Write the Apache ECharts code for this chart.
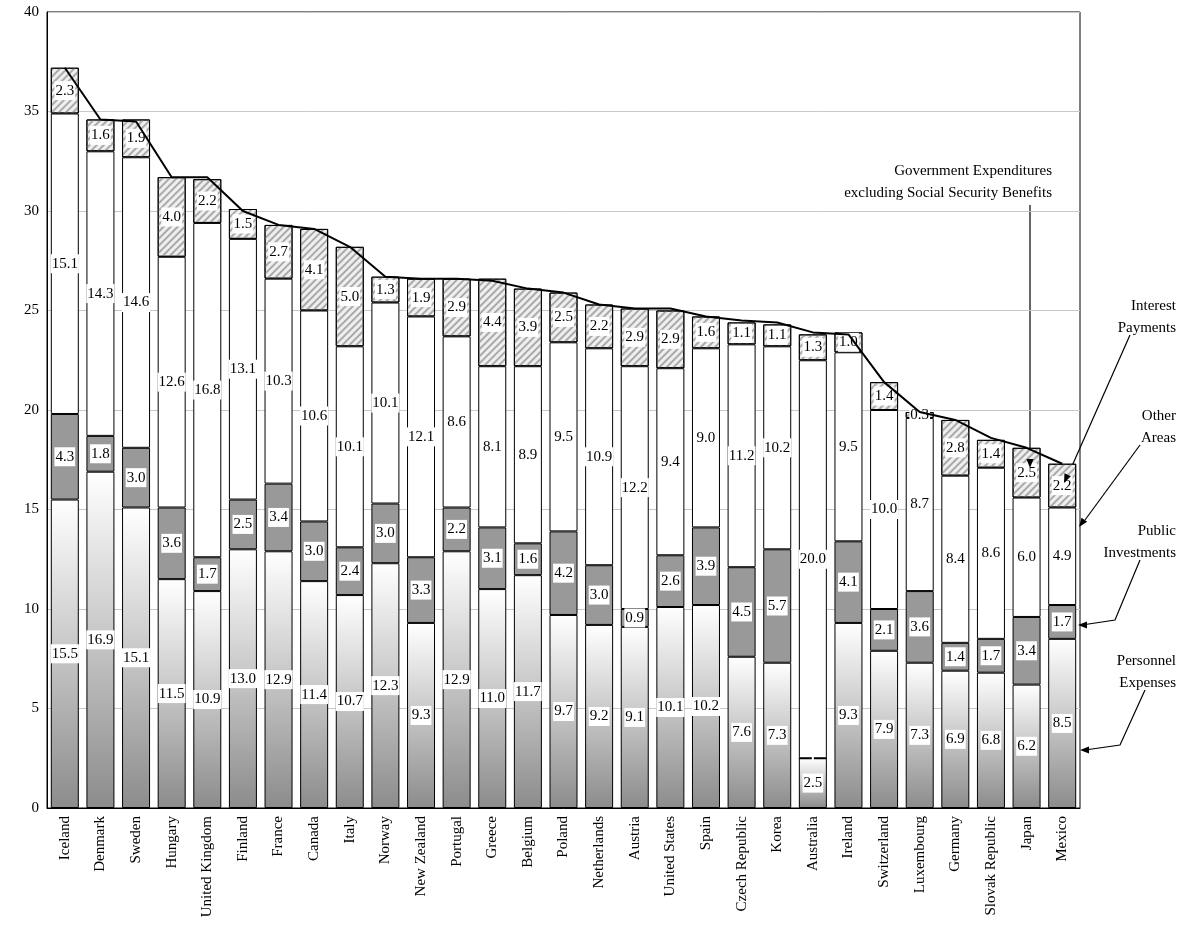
<!DOCTYPE html><html><head><meta charset="utf-8"><script src="https://cdn.jsdelivr.net/npm/echarts@6/dist/echarts.min.js"></script>
<style>html,body{margin:0;background:#fff}#c{width:1182px;height:935px}</style></head><body><div id="c"></div><script>
const countries=["Iceland","Denmark","Sweden","Hungary","United Kingdom","Finland","France","Canada","Italy","Norway","New Zealand","Portugal","Greece","Belgium","Poland","Netherlands","Austria","United States","Spain","Czech Republic","Korea","Australia","Ireland","Switzerland","Luxembourg","Germany","Slovak Republic","Japan","Mexico"];
const personnel=[15.5,16.9,15.1,11.5,10.9,13.0,12.9,11.4,10.7,12.3,9.3,12.9,11.0,11.7,9.7,9.2,9.1,10.1,10.2,7.6,7.3,2.5,9.3,7.9,7.3,6.9,6.8,6.2,8.5];
const publicInv=[4.3,1.8,3.0,3.6,1.7,2.5,3.4,3.0,2.4,3.0,3.3,2.2,3.1,1.6,4.2,3.0,0.9,2.6,3.9,4.5,5.7,0,4.1,2.1,3.6,1.4,1.7,3.4,1.7];
const otherAreas=[15.1,14.3,14.6,12.6,16.8,13.1,10.3,10.6,10.1,10.1,12.1,8.6,8.1,8.9,9.5,10.9,12.2,9.4,9.0,11.2,10.2,20.0,9.5,10.0,8.7,8.4,8.6,6.0,4.9];
const interest=[2.3,1.6,1.9,4.0,2.2,1.5,2.7,4.1,5.0,1.3,1.9,2.9,4.4,3.9,2.5,2.2,2.9,2.9,1.6,1.1,1.1,1.3,1.0,1.4,0.3,2.8,1.4,2.5,2.2];
const totals=[37.2,34.6,34.5,31.7,31.7,30.0,29.3,29.1,28.2,26.7,26.6,26.6,26.5,26.1,25.9,25.3,25.1,25.1,24.7,24.5,24.4,23.9,23.8,21.4,19.9,19.5,18.6,18.1,17.3];
const F='"Liberation Serif","DejaVu Serif",serif';
const lbl={show:true,position:'inside',color:'#000',fontFamily:F,fontSize:15,backgroundColor:'#fff',padding:[2,1],formatter:p=>p.value?p.value.toFixed(1):''};
const bar=(name,data,style)=>({name,type:'bar',stack:'s',data,barWidth:28,label:lbl,itemStyle:Object.assign({borderColor:'#000',borderWidth:1},style)});
const chart=echarts.init(document.getElementById('c'));
const arrow=(pts)=>({type:'polyline',shape:{points:pts},style:{stroke:'#000',lineWidth:1.2,fill:null}});
const head=(x,y,dx,dy)=>({type:'polygon',x,y,rotation:-Math.atan2(dy,dx),shape:{points:[[0,0],[-9,-3.5],[-9,3.5]]},style:{fill:'#000'},z:10});
chart.setOption({
 animation:false,
 grid:{left:47,right:102,top:12,bottom:127,show:true,borderColor:'#000',borderWidth:1},
 xAxis:{type:'category',data:countries,axisLine:{lineStyle:{color:'#000'}},axisTick:{show:false},axisLabel:{rotate:90,fontFamily:F,fontSize:15,color:'#000',interval:0}},
 yAxis:{type:'value',min:0,max:40,interval:5,axisLine:{show:true,lineStyle:{color:'#000'}},axisTick:{show:false},splitLine:{lineStyle:{color:'#c8c8c8'}},axisLabel:{fontFamily:F,fontSize:15,color:'#000'}},
 series:[
  bar('Personnel Expenses',personnel,{color:new echarts.graphic.LinearGradient(0,0,0,1,[{offset:0,color:'#ffffff'},{offset:1,color:'#8c8c8c'}])}),
  bar('Public Investments',publicInv,{color:'#999'}),
  bar('Other Areas',otherAreas,{color:'#fff'}),
  bar('Interest Payments',interest,{color:'#efefef',decal:{symbol:'rect',color:'#aaa',dashArrayX:[1,0],dashArrayY:[1.5,3],rotation:-Math.PI/4,symbolSize:1}}),
  {name:'Total',type:'line',data:totals,symbol:'none',lineStyle:{color:'#000',width:2},label:{show:true,position:'top',fontFamily:F,fontSize:15,color:'#000',formatter:p=>p.value.toFixed(1)},z:5}
 ],
 graphic:[
  {type:'text',x:1052,y:160,style:{text:'Government Expenditures\nexcluding Social Security Benefits',font:'15px '+F,align:'right',fill:'#000',lineHeight:22}},
  {type:'text',x:1176,y:295,style:{text:'Interest\nPayments',font:'15px '+F,align:'right',fill:'#000',lineHeight:22}},
  {type:'text',x:1176,y:405,style:{text:'Other\nAreas',font:'15px '+F,align:'right',fill:'#000',lineHeight:22}},
  {type:'text',x:1176,y:520,style:{text:'Public\nInvestments',font:'15px '+F,align:'right',fill:'#000',lineHeight:22}},
  {type:'text',x:1176,y:650,style:{text:'Personnel\nExpenses',font:'15px '+F,align:'right',fill:'#000',lineHeight:22}},
  arrow([[1030,205],[1030,460]]),head(1030,468,0,1),
  arrow([[1130,335],[1068,475]]),head(1064,483,-62,140),
  arrow([[1140,445],[1085,520]]),head(1079,527,-55,75),
  arrow([[1140,560],[1115,620],[1082,625]]),head(1078,625,-1,0),
  arrow([[1145,690],[1120,745],[1085,750]]),head(1080,750,-1,0)
 ]
});
</script></body></html>
